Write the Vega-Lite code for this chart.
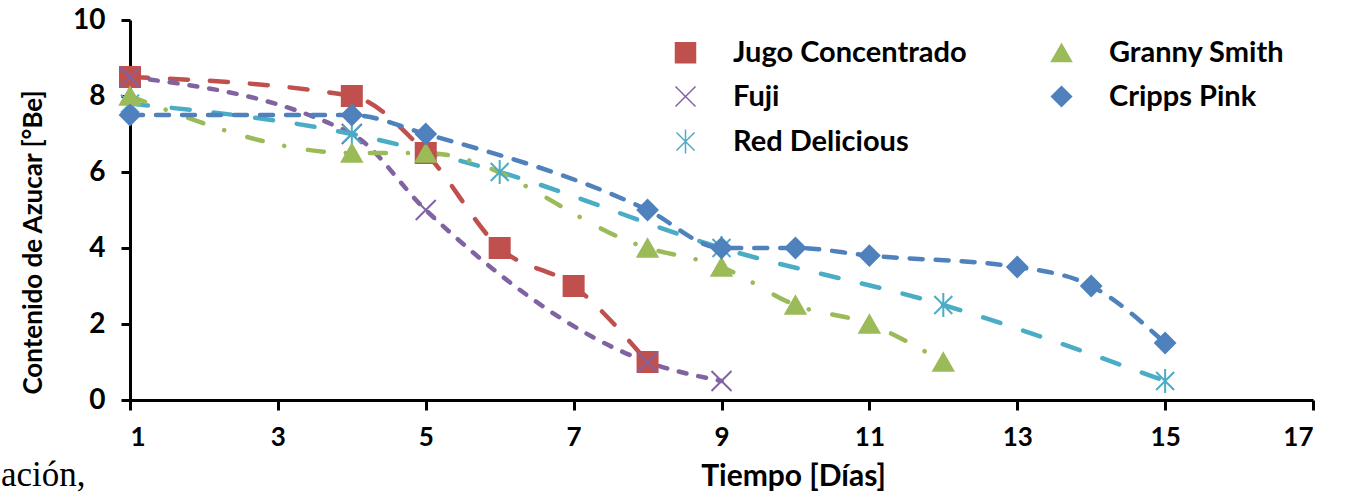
{
  "$schema": "https://vega.github.io/schema/vega-lite/v6.json",
  "width": 1183,
  "height": 380,
  "autosize": {"type": "none"},
  "padding": {"left": 130, "top": 20, "right": 41, "bottom": 95},
  "background": "white",
  "title": {"text": "ación,", "orient": "top", "anchor": "start", "frame": "group", "dx": -129, "dy": 515, "font": "Liberation Serif", "fontSize": 35, "fontWeight": "normal", "color": "black", "baseline": "alphabetic", "offset": 0},
  "data": {"values": [
    {"serie": "Jugo Concentrado", "dia": 1, "valor": 8.5},
    {"serie": "Jugo Concentrado", "dia": 4, "valor": 8},
    {"serie": "Jugo Concentrado", "dia": 5, "valor": 6.5},
    {"serie": "Jugo Concentrado", "dia": 6, "valor": 4},
    {"serie": "Jugo Concentrado", "dia": 7, "valor": 3},
    {"serie": "Jugo Concentrado", "dia": 8, "valor": 1},
    {"serie": "Fuji", "dia": 1, "valor": 8.5},
    {"serie": "Fuji", "dia": 4, "valor": 7},
    {"serie": "Fuji", "dia": 5, "valor": 5},
    {"serie": "Fuji", "dia": 8, "valor": 1},
    {"serie": "Fuji", "dia": 9, "valor": 0.5},
    {"serie": "Red Delicious", "dia": 1, "valor": 7.8},
    {"serie": "Red Delicious", "dia": 4, "valor": 7},
    {"serie": "Red Delicious", "dia": 6, "valor": 6},
    {"serie": "Red Delicious", "dia": 9, "valor": 4},
    {"serie": "Red Delicious", "dia": 12, "valor": 2.5},
    {"serie": "Red Delicious", "dia": 15, "valor": 0.5},
    {"serie": "Granny Smith", "dia": 1, "valor": 8},
    {"serie": "Granny Smith", "dia": 4, "valor": 6.5},
    {"serie": "Granny Smith", "dia": 5, "valor": 6.5},
    {"serie": "Granny Smith", "dia": 8, "valor": 4},
    {"serie": "Granny Smith", "dia": 9, "valor": 3.5},
    {"serie": "Granny Smith", "dia": 10, "valor": 2.5},
    {"serie": "Granny Smith", "dia": 11, "valor": 2},
    {"serie": "Granny Smith", "dia": 12, "valor": 1},
    {"serie": "Cripps Pink", "dia": 1, "valor": 7.5},
    {"serie": "Cripps Pink", "dia": 4, "valor": 7.5},
    {"serie": "Cripps Pink", "dia": 5, "valor": 7},
    {"serie": "Cripps Pink", "dia": 8, "valor": 5},
    {"serie": "Cripps Pink", "dia": 9, "valor": 4},
    {"serie": "Cripps Pink", "dia": 10, "valor": 4},
    {"serie": "Cripps Pink", "dia": 11, "valor": 3.8},
    {"serie": "Cripps Pink", "dia": 13, "valor": 3.5},
    {"serie": "Cripps Pink", "dia": 14, "valor": 3},
    {"serie": "Cripps Pink", "dia": 15, "valor": 1.5}
  ]},
  "encoding": {
    "x": {"field": "dia", "type": "quantitative",
      "scale": {"domain": [1, 17], "nice": false, "zero": false},
      "axis": {"values": [1, 3, 5, 7, 9, 11, 13, 15, 17], "title": "Tiempo [Días]", "titleX": 663, "titleY": 76, "titleBaseline": "middle", "titleAlign": "center", "titleFontSize": 30, "labelPadding": 14, "tickSize": 10}},
    "y": {"field": "valor", "type": "quantitative",
      "scale": {"domain": [0, 10], "nice": false},
      "axis": {"values": [0, 2, 4, 6, 8, 10], "title": "Contenido de Azucar [°Be]", "titleAngle": 270, "titleX": -97, "titleY": 222, "titleBaseline": "middle", "titleAlign": "center", "titleFontSize": 26, "labelPadding": 16, "labelFontSize": 28, "tickSize": 9}}
  },
  "layer": [
    {
      "mark": {"type": "line", "interpolate": "monotone", "strokeWidth": 4.5, "strokeCap": "round"},
      "encoding": {
        "color": {"field": "serie", "type": "nominal",
          "scale": {"domain": ["Jugo Concentrado", "Fuji", "Red Delicious", "Granny Smith", "Cripps Pink"], "range": ["#C0504D", "#8064A2", "#4BACC6", "#9BBB59", "#4F81BD"]}},
        "strokeDash": {"field": "serie", "type": "nominal", "legend": null,
          "scale": {"domain": ["Fuji", "Jugo Concentrado", "Red Delicious", "Granny Smith", "Cripps Pink"], "range": [[8, 12], [18, 22], [18, 24], [16, 22, 0.1, 24], [13, 13]]}}
      }
    },
    {
      "mark": {"type": "point", "filled": true, "opacity": 1, "size": 400, "strokeWidth": 2},
      "encoding": {
        "color": {"field": "serie", "type": "nominal",
          "scale": {"domain": ["Jugo Concentrado", "Fuji", "Red Delicious", "Granny Smith", "Cripps Pink"], "range": ["#C0504D", "#8064A2", "#4BACC6", "#9BBB59", "#4F81BD"]},
          "legend": {
            "orient": "none", "legendX": 541, "legendY": 18, "columns": 2, "title": null,
            "symbolSize": 400, "labelFont": "Lato", "labelFontSize": 29, "labelFontWeight": "bold", "labelColor": "black",
            "labelOffset": 33, "columnPadding": 80, "rowPadding": 14, "padding": 0, "labelLimit": 500
          }},
        "shape": {"field": "serie", "type": "nominal", "legend": null,
          "scale": {"domain": ["Jugo Concentrado", "Fuji", "Red Delicious", "Granny Smith", "Cripps Pink"], "range": ["square", "M-1,-1L1,1M-1,1L1,-1", "M-0.9,-0.9L0.9,0.9M-0.9,0.9L0.9,-0.9M0,-1.2L0,1.2", "triangle-up", "diamond"]}},
        "stroke": {"field": "serie", "type": "nominal", "legend": null,
          "scale": {"domain": ["Jugo Concentrado", "Fuji", "Red Delicious", "Granny Smith", "Cripps Pink"], "range": ["#C0504D", "#8064A2", "#4BACC6", "#9BBB59", "#4F81BD"]}}
      }
    }
  ],
  "config": {
    "view": {"stroke": null},
    "font": "Lato",
    "axis": {
      "grid": false,
      "domainColor": "black", "domainWidth": 3,
      "tickColor": "black", "tickWidth": 3,
      "labelFont": "Lato", "labelFontSize": 26, "labelFontWeight": "bold", "labelColor": "black",
      "titleFont": "Lato", "titleFontSize": 28, "titleFontWeight": "bold", "titleColor": "black"
    }
  }
}
